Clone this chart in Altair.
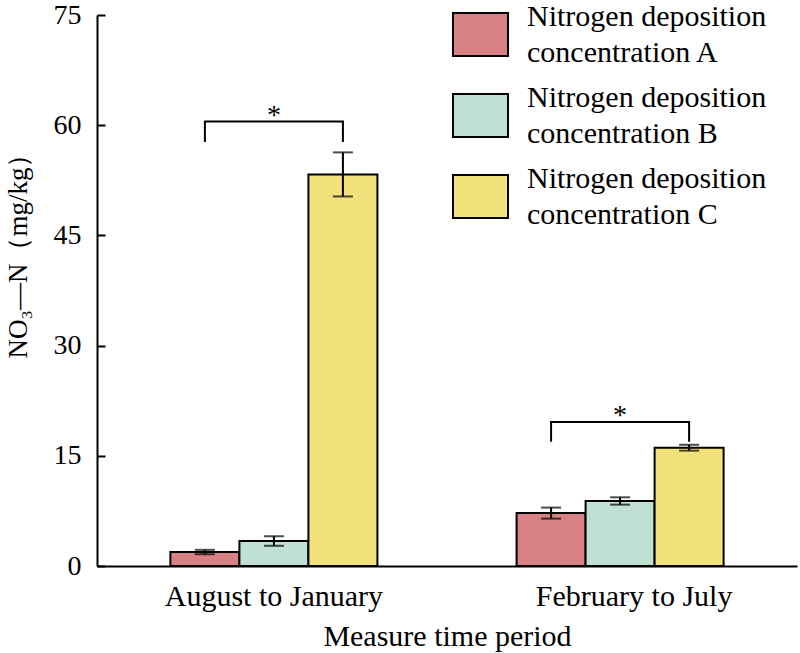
import altair as alt
import pandas as pd

periods = ["August to January", "February to July"]
series = [
    "Nitrogen deposition concentration A",
    "Nitrogen deposition concentration B",
    "Nitrogen deposition concentration C",
]
mean_A = [1.9, 7.2]
mean_B = [3.4, 8.85]
mean_C = [53.3, 16.1]
err_A = [0.3, 0.75]
err_B = [0.65, 0.5]
err_C = [3.0, 0.4]
colors = ["#d88285", "#bfe0d2", "#f3e17c"]
sig_top = [60.5, 19.6]
sig_leg = [57.7, 16.9]
sig_mark = ["*", "*"]
y_ticks = [0, 15, 30, 45, 60, 75]

rows = []
for s, means, errs in zip(series, [mean_A, mean_B, mean_C], [err_A, err_B, err_C]):
    for p, m, e in zip(periods, means, errs):
        rows.append({"period": p, "series": s, "mean": m, "lo": m - e, "hi": m + e})
df = pd.DataFrame(rows)

br = []
for p, t, l in zip(periods, sig_top, sig_leg):
    pts = [(series[0], l), (series[0], t), (series[2], t), (series[2], l)]
    for i, (s, v) in enumerate(pts):
        br.append({"period": p, "series": s, "y": v, "order": i})
br_df = pd.DataFrame(br)
star_df = pd.DataFrame({"period": periods, "series": [series[1]] * 2, "y": sig_top, "label": sig_mark})

FONT = "Liberation Serif"
YTITLE = "NO₃—N（mg/kg）"

x_scale = alt.Scale(domain=periods, paddingInner=0.402, paddingOuter=0.212)
xo_scale = alt.Scale(domain=series, paddingInner=0, paddingOuter=0)
y_scale = alt.Scale(domain=[0, 75], nice=False, zero=True)

x_axis = alt.Axis(
    title="Measure time period", labelAngle=0, ticks=False, labelPadding=15, labelLimit=400,
    labelOffset={"condition": {"test": "datum.value === 'February to July'", "value": 14}, "value": 0},
    labelFont=FONT, labelFontSize=30, labelColor="black",
    titleFont=FONT, titleFontSize=30, titleFontWeight="normal", titleColor="black",
    titleY=79, titleBaseline="alphabetic",
    domainColor="black", domainWidth=2,
)

x_enc = alt.X("period:N", sort=periods, scale=x_scale, axis=x_axis)
xo_enc = alt.XOffset("series:N", sort=series, scale=xo_scale)

bars = alt.Chart(df).mark_bar(stroke="black", strokeWidth=2, opacity=1).encode(
    x=x_enc,
    xOffset=xo_enc,
    y=alt.Y("mean:Q", scale=y_scale, axis=alt.Axis(
        title=YTITLE, values=y_ticks, ticks=False, labelPadding=16, grid=False,
        labelFont=FONT, labelFontSize=28, labelColor="black",
        titleFont=FONT, titleFontSize=27, titleFontWeight="normal", titleColor="black",
        titleX=-71, titleY=234, titleBaseline="alphabetic",
        domainColor="black", domainWidth=2,
    )),
    fill=alt.Fill("series:N", sort=series, scale=alt.Scale(domain=series, range=colors),
                  legend=alt.Legend(
                      orient="none", legendX=361, legendY=-3, title=None, padding=0,
                      symbolType="M-1.28,-1H1.28V1H-1.28Z", symbolSize=1849,
                      symbolStrokeColor="black", symbolStrokeWidth=2, symbolOpacity=1,
                      labelFont=FONT, labelFontSize=30, labelColor="black", labelBaseline="line-bottom",
                      labelLimit=500, labelOffset=24, rowPadding=14,
                      labelExpr="['Nitrogen deposition', replace(datum.label, 'Nitrogen deposition ', '')]",
                  )),
)

err_rule = alt.Chart(df).mark_rule(color="black", strokeWidth=2).encode(
    x=x_enc,
    xOffset=xo_enc,
    y=alt.Y("lo:Q", scale=y_scale, axis=alt.Axis(
        orient="left", offset=-8, tickSize=8, ticks=True, labels=False, domain=False,
        grid=False, title=None, values=y_ticks, tickColor="black", tickWidth=2,
    )),
    y2="hi:Q",
)

cap_lo = alt.Chart(df).mark_tick(color="black", thickness=2, size=20).encode(
    x=x_enc, xOffset=xo_enc, y=alt.Y("lo:Q", scale=y_scale, axis=None),
)
cap_hi = alt.Chart(df).mark_tick(color="black", thickness=2, size=20).encode(
    x=x_enc, xOffset=xo_enc, y=alt.Y("hi:Q", scale=y_scale, axis=None),
)

brackets = alt.Chart(br_df).mark_line(color="black", strokeWidth=2).encode(
    x=x_enc, xOffset=xo_enc,
    y=alt.Y("y:Q", scale=y_scale, axis=None),
    detail="period:N", order="order:Q",
)

stars = alt.Chart(star_df).mark_text(font=FONT, fontSize=28, color="black", baseline="alphabetic", dy=2).encode(
    x=x_enc, xOffset=xo_enc,
    y=alt.Y("y:Q", scale=y_scale, axis=None),
    text="label:N",
)

chart = alt.layer(bars, err_rule, cap_lo, cap_hi, brackets, stars).resolve_scale(
    y="independent"
).properties(
    width=700, height=551,
    autosize=alt.AutoSizeParams(type="none"),
    padding={"left": 97, "top": 15, "right": 3, "bottom": 87},
    background="white",
).configure(
    view=alt.ViewConfig(stroke=None),
    style={"guide-label": {"lineHeight": 36}},
)

chart.save("out.html", embed_options={"renderer": "svg", "actions": False})
